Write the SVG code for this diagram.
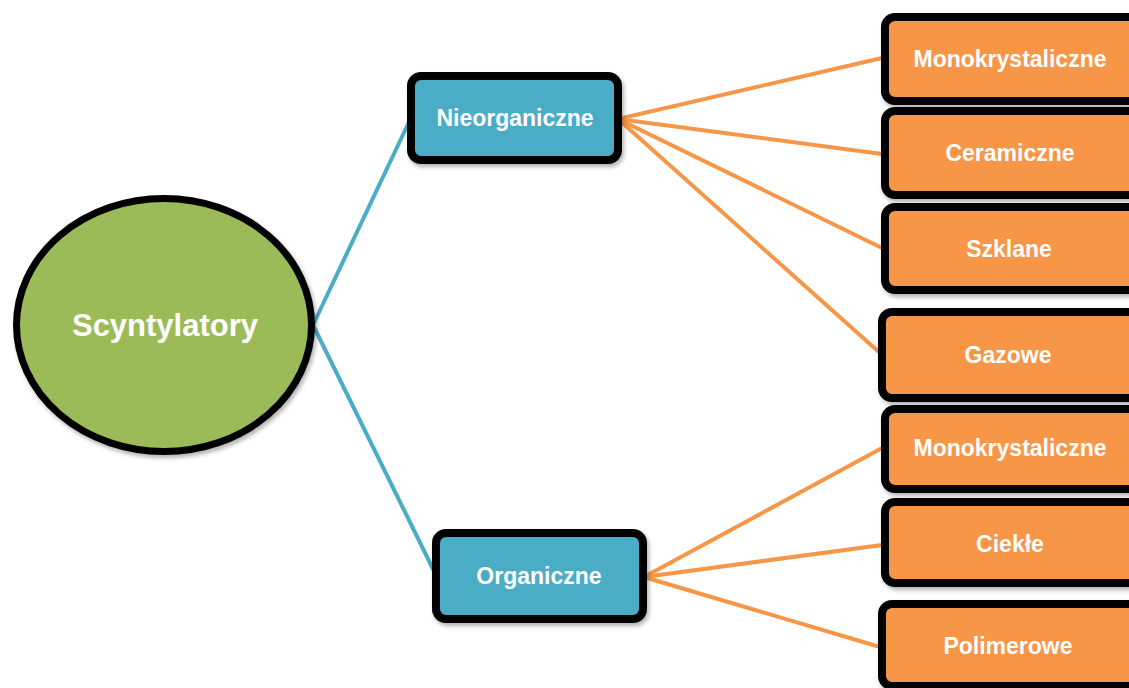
<svg xmlns="http://www.w3.org/2000/svg" width="1129" height="688" viewBox="0 0 1129 688">
<defs>
<filter id="sh" x="-10%" y="-10%" width="130%" height="130%">
<feDropShadow dx="2" dy="3" stdDeviation="2" flood-color="#000" flood-opacity="0.3"/>
</filter>
<style>
.box{stroke:#000;stroke-width:8;filter:url(#sh)}
.blue{fill:#4BACC6}
.orange{fill:#F79646}
.t{font-family:"Liberation Sans",Arial,sans-serif;font-weight:bold;fill:#fff;text-anchor:middle;font-size:23px}
.cb{stroke:#4BACC6;stroke-width:4;fill:none}
.co{stroke:#F79646;stroke-width:4;fill:none}
</style>
</defs>
<rect width="1129" height="688" fill="#fff"/>
<g id="connectors">
<line class="cb" x1="313" y1="325" x2="409" y2="122"/>
<line class="cb" x1="313" y1="325" x2="434" y2="571"/>
<line class="co" x1="618" y1="119" x2="882" y2="58"/>
<line class="co" x1="618" y1="119" x2="882" y2="154"/>
<line class="co" x1="618" y1="119" x2="882" y2="248"/>
<line class="co" x1="618" y1="119" x2="880" y2="353"/>
<line class="co" x1="644" y1="577" x2="882" y2="448"/>
<line class="co" x1="644" y1="577" x2="882" y2="545"/>
<line class="co" x1="644" y1="577" x2="880" y2="647"/>
</g>
<g id="scyntylatory">
<ellipse cx="164" cy="325" rx="147.5" ry="126.5" fill="#9BBB59" stroke="#000" stroke-width="7" filter="url(#sh)"/>
<text class="t" x="165" y="336" style="font-size:31px">Scyntylatory</text>
</g>
<g id="nieorganiczne">
<rect class="box blue" x="411" y="76" width="207" height="84" rx="10"/>
<text class="t" x="515" y="126">Nieorganiczne</text>
</g>
<g id="organiczne">
<rect class="box blue" x="436" y="533" width="207" height="86" rx="10"/>
<text class="t" x="539" y="584">Organiczne</text>
</g>
<g id="monokrystaliczne1">
<rect class="box orange" x="885" y="17" width="260" height="84" rx="10"/>
<text class="t" x="1010" y="67">Monokrystaliczne</text>
</g>
<g id="ceramiczne">
<rect class="box orange" x="885" y="111" width="260" height="84" rx="10"/>
<text class="t" x="1010" y="161">Ceramiczne</text>
</g>
<g id="szklane">
<rect class="box orange" x="885" y="207" width="260" height="83" rx="10"/>
<text class="t" x="1009" y="257">Szklane</text>
</g>
<g id="gazowe">
<rect class="box orange" x="882" y="312" width="260" height="86" rx="10"/>
<text class="t" x="1008" y="363">Gazowe</text>
</g>
<g id="monokrystaliczne2">
<rect class="box orange" x="885" y="409" width="260" height="80" rx="10"/>
<text class="t" x="1010" y="456">Monokrystaliczne</text>
</g>
<g id="ciekle">
<rect class="box orange" x="885" y="502" width="260" height="81" rx="10"/>
<text class="t" x="1010" y="552">Ciekłe</text>
</g>
<g id="polimerowe">
<rect class="box orange" x="882" y="604" width="260" height="82" rx="10"/>
<text class="t" x="1008" y="654">Polimerowe</text>
</g>
</svg>
